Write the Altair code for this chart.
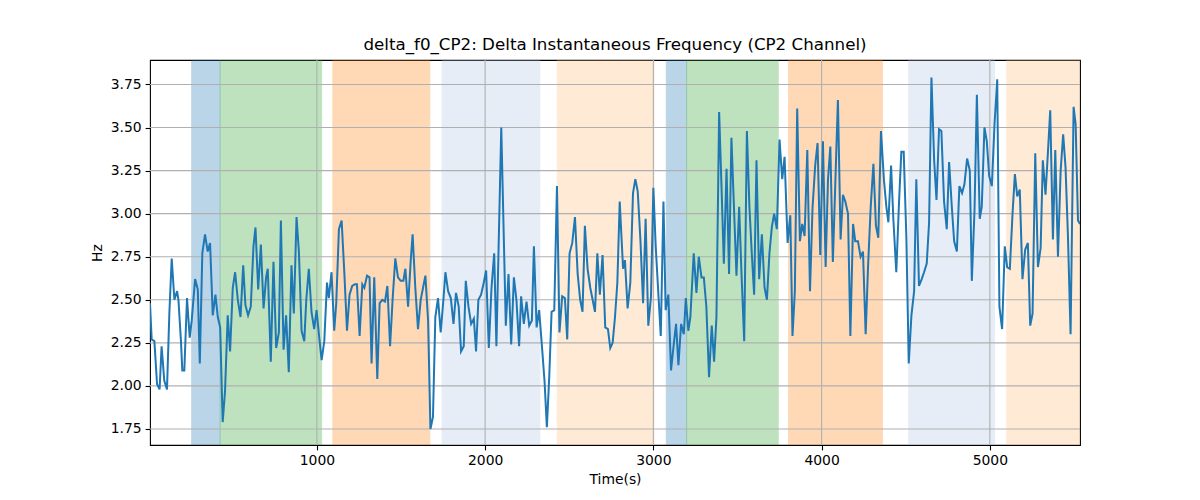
import altair as alt
import pandas as pd

TITLE = "delta_f0_CP2: Delta Instantaneous Frequency (CP2 Channel)"

# sample times (s) and delta f0 (Hz)
times = [
    8, 18, 34, 50, 65, 77, 93, 109, 123, 137, 153, 169, 177, 192, 200, 212, 228, 244, 256, 276,
    292, 304, 319, 335, 351, 365, 381, 397, 411, 425, 440, 454, 470, 484, 500, 514, 530, 546, 562, 575,
    591, 607, 623, 635, 651, 667, 683, 698, 708, 726, 742, 758, 774, 786, 802, 817, 833, 849, 863, 879,
    893, 909, 925, 937, 952, 968, 984, 998, 1012, 1028, 1044, 1060, 1071, 1087, 1103, 1115, 1131, 1147, 1163, 1179,
    1194, 1210, 1226, 1238, 1254, 1270, 1282, 1298, 1313, 1325, 1341, 1359, 1373, 1389, 1405, 1419, 1435, 1450, 1466, 1482,
    1498, 1514, 1526, 1542, 1558, 1569, 1585, 1601, 1617, 1633, 1645, 1661, 1675, 1690, 1704, 1720, 1736, 1752, 1764, 1780,
    1796, 1812, 1827, 1843, 1857, 1873, 1885, 1901, 1917, 1933, 1946, 1960, 1976, 1992, 2006, 2022, 2038, 2054, 2067, 2096,
    2123, 2139, 2155, 2171, 2186, 2202, 2214, 2230, 2246, 2262, 2278, 2290, 2306, 2321, 2337, 2353, 2367, 2381, 2395, 2411,
    2427, 2442, 2458, 2474, 2488, 2502, 2518, 2534, 2550, 2565, 2579, 2593, 2609, 2625, 2639, 2653, 2667, 2682, 2698, 2714,
    2730, 2744, 2758, 2772, 2786, 2800, 2820, 2831, 2847, 2863, 2879, 2893, 2907, 2923, 2939, 2954, 2970, 2986, 3000, 3014,
    3030, 3044, 3060, 3073, 3089, 3105, 3121, 3135, 3149, 3165, 3181, 3193, 3208, 3220, 3240, 3256, 3270, 3286, 3300, 3315,
    3331, 3347, 3361, 3375, 3391, 3405, 3419, 3435, 3450, 3464, 3494, 3510, 3524, 3540, 3556, 3571, 3585, 3599, 3613, 3629,
    3645, 3661, 3675, 3690, 3704, 3718, 3734, 3750, 3766, 3780, 3798, 3814, 3827, 3841, 3855, 3871, 3885, 3899, 3915, 3931,
    3946, 3962, 3976, 3992, 4008, 4024, 4038, 4052, 4067, 4081, 4097, 4113, 4127, 4141, 4157, 4171, 4187, 4200, 4216, 4232,
    4246, 4262, 4276, 4292, 4308, 4323, 4337, 4353, 4371, 4385, 4397, 4413, 4427, 4444, 4460, 4474, 4488, 4504, 4518, 4534,
    4550, 4563, 4579, 4595, 4609, 4625, 4639, 4653, 4669, 4683, 4698, 4712, 4728, 4744, 4758, 4774, 4788, 4804, 4819, 4835,
    4849, 4865, 4881, 4893, 4909, 4923, 4940, 4952, 4968, 4982, 4996, 5012, 5028, 5044, 5057, 5073, 5089, 5103, 5119, 5135,
    5149, 5163, 5178, 5194, 5210, 5226, 5240, 5254, 5270, 5286, 5302, 5315, 5331, 5345, 5359, 5375, 5389, 5405, 5421, 5436,
    5450, 5464, 5480, 5498, 5510, 5524, 5536,
]
delta_hz = [
    2.48, 2.27, 2.26, 2.01, 1.98, 2.23, 2.03, 1.98, 2.42, 2.74, 2.50, 2.55, 2.50, 2.26, 2.09, 2.09, 2.51, 2.28, 2.38, 2.62,
    2.56, 2.13, 2.77, 2.88, 2.78, 2.83, 2.41, 2.53, 2.40, 2.34, 1.79, 1.97, 2.41, 2.20, 2.57, 2.66, 2.50, 2.40, 2.70, 2.47,
    2.41, 2.46, 2.81, 2.92, 2.56, 2.82, 2.45, 2.63, 2.68, 2.14, 2.72, 2.22, 2.31, 2.96, 2.21, 2.41, 2.08, 2.70, 2.42, 2.98,
    2.78, 2.32, 2.26, 2.50, 2.68, 2.43, 2.33, 2.44, 2.30, 2.15, 2.26, 2.60, 2.51, 2.66, 2.32, 2.48, 2.91, 2.96, 2.66, 2.32,
    2.53, 2.58, 2.59, 2.59, 2.29, 2.59, 2.57, 2.64, 2.63, 2.13, 2.63, 2.04, 2.48, 2.50, 2.49, 2.58, 2.23, 2.50, 2.74, 2.63,
    2.61, 2.61, 2.68, 2.46, 2.73, 2.88, 2.57, 2.33, 2.50, 2.58, 2.64, 2.38, 1.75, 1.82, 2.40, 2.51, 2.31, 2.50, 2.66, 2.55,
    2.51, 2.36, 2.54, 2.46, 2.20, 2.23, 2.61, 2.46, 2.36, 2.39, 2.20, 2.50, 2.53, 2.60, 2.67, 2.22, 2.57, 2.77, 2.23, 3.50,
    2.35, 2.65, 2.24, 2.63, 2.50, 2.23, 2.52, 2.36, 2.49, 2.35, 2.38, 2.81, 2.34, 2.44, 2.24, 2.03, 1.76, 2.05, 2.43, 2.44,
    3.16, 2.31, 2.52, 2.51, 2.27, 2.77, 2.83, 2.98, 2.65, 2.50, 2.43, 2.93, 2.68, 2.57, 2.50, 2.43, 2.77, 2.53, 2.76, 2.34,
    2.33, 2.22, 2.25, 2.40, 2.60, 3.07, 2.68, 2.73, 2.45, 2.60, 3.12, 3.20, 3.13, 2.85, 2.48, 2.97, 2.35, 2.52, 3.15, 2.81,
    2.53, 2.29, 3.07, 2.44, 2.53, 2.09, 2.24, 2.36, 2.12, 2.36, 2.30, 2.51, 2.32, 2.40, 2.77, 2.54, 2.75, 2.63, 2.63, 2.46,
    2.05, 2.35, 2.14, 2.40, 3.59, 3.16, 2.71, 3.26, 2.65, 3.44, 2.64, 3.04, 2.65, 2.26, 3.48, 3.04, 2.77, 2.53, 3.31, 2.62,
    2.88, 2.57, 2.50, 2.77, 2.92, 3.00, 2.91, 3.43, 3.20, 3.33, 2.83, 2.99, 2.29, 2.55, 3.61, 2.84, 2.94, 2.87, 3.37, 2.55,
    3.03, 3.28, 3.41, 2.76, 3.42, 2.69, 3.20, 3.39, 2.72, 3.16, 3.66, 2.85, 3.11, 3.07, 3.00, 2.29, 2.94, 2.84, 2.84, 2.75,
    2.78, 2.30, 2.69, 3.04, 3.29, 2.93, 2.86, 3.48, 3.19, 3.04, 2.95, 3.28, 2.96, 2.66, 3.06, 3.36, 3.36, 2.86, 2.13, 2.41,
    2.55, 3.20, 2.58, 2.62, 2.66, 2.71, 2.95, 3.79, 3.31, 3.08, 3.49, 3.48, 3.07, 2.91, 3.30, 3.04, 2.84, 2.78, 3.16, 3.12,
    3.17, 3.32, 3.25, 2.61, 3.02, 3.69, 2.97, 3.04, 3.50, 3.42, 3.22, 3.16, 3.52, 3.78, 2.46, 2.33, 2.81, 2.69, 2.68, 3.00,
    3.23, 3.10, 3.14, 2.62, 2.79, 2.83, 2.35, 2.42, 3.35, 2.69, 2.80, 3.31, 3.11, 3.35, 3.60, 2.85, 3.37, 2.75, 3.25, 3.46,
    3.27, 2.88, 2.30, 3.62, 3.52, 2.96, 2.94,
]

# shaded segments
span_starts = [256, 425, 1095, 1744, 2429, 3077, 3198, 3804, 4518, 5101]
span_ends = [425, 1028, 1671, 2325, 3004, 3198, 3742, 4361, 5028, 5600]
span_colors = ["#1f77b4", "#2ca02c", "#ff7f0e", "#aec7e8", "#ffbb78",
               "#1f77b4", "#2ca02c", "#ff7f0e", "#aec7e8", "#ffbb78"]

x_ticks = [1000, 2000, 3000, 4000, 5000]
y_ticks = [1.75, 2.0, 2.25, 2.5, 2.75, 3.0, 3.25, 3.5, 3.75]
x_domain = [8, 5536]
y_domain = [1.657, 3.892]


def main() -> None:
    df = pd.DataFrame({"Time": times, "Hz": delta_hz})
    spans = pd.DataFrame({"start": span_starts, "end": span_ends, "color": span_colors})
    xgrid = pd.DataFrame({"x": x_ticks})
    ygrid = pd.DataFrame({"y": y_ticks})

    xscale = alt.Scale(domain=x_domain, nice=False, zero=False)
    yscale = alt.Scale(domain=y_domain, nice=False, zero=False)

    shade = (
        alt.Chart(spans)
        .mark_rect(opacity=0.3, strokeWidth=1, clip=True)
        .encode(
            x=alt.X("start:Q", scale=xscale),
            x2="end:Q",
            fill=alt.Fill("color:N", scale=None),
            stroke=alt.Stroke("color:N", scale=None),
        )
    )

    vgrid = (
        alt.Chart(xgrid)
        .mark_rule(color="#b0b0b0", strokeWidth=1.1)
        .encode(x=alt.X("x:Q", scale=xscale))
    )
    hgrid = (
        alt.Chart(ygrid)
        .mark_rule(color="#b0b0b0", strokeWidth=1.1)
        .encode(y=alt.Y("y:Q", scale=yscale))
    )

    line = (
        alt.Chart(df)
        .mark_line(color="#1f77b4", strokeWidth=2, clip=True)
        .encode(
            x=alt.X(
                "Time:Q",
                scale=xscale,
                title="Time(s)",
                axis=alt.Axis(values=x_ticks, format="d", titlePadding=5),
            ),
            y=alt.Y(
                "Hz:Q",
                scale=yscale,
                title="Hz",
                axis=alt.Axis(values=y_ticks, format=".2f", titlePadding=6),
            ),
        )
    )

    chart = (
        alt.layer(shade, vgrid, hgrid, line)
        .properties(
            width=930,
            height=385,
            title=alt.TitleParams(TITLE, fontSize=16.7, fontWeight="normal", offset=6),
            autosize=alt.AutoSizeParams(type="none"),
            padding={"left": 142, "top": 52, "right": 112, "bottom": 50},
        )
        .configure(font="DejaVu Sans")
        .configure_view(stroke="black", strokeWidth=1.1)
        .configure_axis(
            grid=False,
            domain=False,
            tickSize=4.9,
            tickWidth=1.1,
            tickColor="black",
            labelPadding=4,
            labelFontSize=13.9,
            labelColor="black",
            titleFontSize=13.9,
            titleFontWeight="normal",
            titleColor="black",
        )
        .configure_title(color="black")
    )

    chart.save("out.html", embed_options={"renderer": "svg", "actions": False})


if __name__ == "__main__":
    main()
